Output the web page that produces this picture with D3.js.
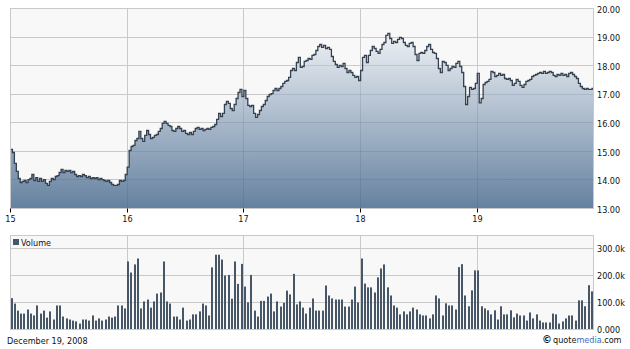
<!DOCTYPE html>
<html>
<head>
<meta charset="utf-8">
<script src="https://cdn.jsdelivr.net/npm/d3@7"></script>
<style>
  body { margin: 0; background: #fff; }
  svg text { font-family: "DejaVu Sans Condensed", "DejaVu Sans", sans-serif; font-stretch: condensed; font-size: 9px; fill: #111; }
</style>
</head>
<body>
<svg id="chart" width="630" height="349"></svg>
<script>
// --> data (intraday readings, 60 per session)
var days = [15, 16, 17, 18, 19];
var dayLabels = ["15", "16", "17", "18", "19"];

var price15 = [15.07,14.96,14.58,14.30,14.05,13.91,13.95,13.98,13.91,14.01,14.05,14.19,13.98,14.08,13.95,14.05,13.95,14.01,13.88,13.81,13.95,14.05,14.01,14.12,14.15,14.26,14.37,14.26,14.33,14.30,14.33,14.26,14.30,14.19,14.12,14.15,14.12,14.19,14.15,14.08,14.12,14.05,14.08,14.05,14.08,14.01,14.05,14.01,13.98,13.95,13.98,13.91,13.84,13.81,13.81,13.84,13.98,13.95,13.98,14.19];
var price16 = [14.45,15.03,15.17,15.21,15.38,15.45,15.70,15.45,15.35,15.56,15.73,15.59,15.45,15.49,15.56,15.59,15.70,15.80,15.98,16.05,15.98,15.91,15.87,15.73,15.70,15.80,15.87,15.80,15.70,15.73,15.63,15.59,15.66,15.59,15.70,15.80,15.84,15.77,15.80,15.73,15.77,15.80,15.77,15.84,15.87,15.94,16.12,16.33,16.22,16.33,16.64,16.75,16.68,16.50,16.43,16.64,16.85,17.06,17.17,16.92];
var price17 = [17.13,16.85,16.61,16.57,16.61,16.33,16.19,16.29,16.43,16.57,16.64,16.78,16.92,16.99,17.02,17.13,17.20,17.13,17.20,17.27,17.38,17.45,17.48,17.59,17.83,17.90,17.83,18.11,18.29,17.94,17.97,18.15,18.18,18.25,18.22,18.36,18.39,18.53,18.67,18.74,18.64,18.71,18.60,18.64,18.57,18.32,18.15,18.04,17.94,18.01,17.97,18.08,17.90,17.76,17.83,17.76,17.66,17.59,17.62,17.48];
var price18 = [17.83,18.29,18.36,18.11,18.36,18.53,18.67,18.60,18.50,18.43,18.57,18.74,18.81,19.06,19.13,18.95,18.78,18.85,18.81,18.92,18.99,18.95,18.81,18.71,18.67,18.78,18.81,18.67,18.39,18.18,18.43,18.46,18.43,18.53,18.67,18.74,18.57,18.46,18.43,18.25,17.90,17.76,18.15,18.11,18.01,17.83,17.90,17.97,17.94,18.08,18.15,17.97,17.76,17.27,16.64,16.92,17.24,17.17,17.20,17.38];
var price19 = [17.73,16.70,16.85,17.34,17.41,17.45,17.52,17.80,17.76,17.62,17.66,17.73,17.66,17.69,17.55,17.52,17.55,17.48,17.31,17.38,17.52,17.45,17.31,17.24,17.34,17.45,17.48,17.52,17.62,17.66,17.69,17.73,17.76,17.73,17.80,17.73,17.76,17.80,17.76,17.66,17.62,17.69,17.66,17.73,17.66,17.69,17.62,17.73,17.76,17.69,17.62,17.55,17.38,17.27,17.20,17.17,17.20,17.17,17.17,17.20];

// volume in thousands, 36 bars per session
var vol15 = [116,96,70,59,59,74,59,52,89,59,70,44,67,37,89,89,48,41,37,33,30,22,37,37,33,52,33,41,33,37,48,44,48,89,89,78];
var vol16 = [252,211,241,263,78,104,111,81,104,133,137,252,104,96,48,48,37,81,33,37,56,56,67,96,89,52,230,277,277,259,200,202,114,252,169,243];
var vol17 = [159,100,202,70,48,106,106,122,133,67,104,85,99,144,130,206,93,104,81,59,81,115,70,70,70,163,126,115,111,111,111,85,85,111,159,100];
var vol18 = [263,170,156,156,137,193,226,241,156,126,89,81,56,67,56,67,81,74,56,52,52,41,56,126,115,52,97,89,89,74,231,242,126,86,145,219];
var vol19 = [219,86,78,71,56,71,37,86,56,56,71,45,59,52,52,33,63,41,56,33,26,26,26,59,56,22,30,41,52,52,33,108,108,86,164,141];

var priceTicks = [13, 14, 15, 16, 17, 18, 19, 20];
var volTicks = [0, 100, 200, 300];
var volTickLabels = ["0.000", "100.0k", "200.0k", "300.0k"];

var dateText = "December 19, 2008";

// build series
var priceByDay = [price15, price16, price17, price18, price19];
var volByDay = [vol15, vol16, vol17, vol18, vol19];

var prices = [];
priceByDay.forEach(function(arr, d) {
    arr.forEach(function(p, i) { prices.push({t: days[d] + i / arr.length, p: p}); });
});
// hold last reading to the close
prices.push({t: 20, p: price19[price19.length - 1]});

var vols = [];
volByDay.forEach(function(arr, d) {
    arr.forEach(function(v, i) { vols.push({t: days[d] + i / arr.length, v: v}); });
});

var svg = d3.select("#chart");
var L = 10.5, R = 593.5;

var x = d3.scaleLinear().domain([15, 20]).range([10.5, 594]);
var yP = d3.scaleLinear().domain([13, 20]).range([208.5, 8.5]);
var yV = d3.scaleLinear().domain([0, 350]).range([329.5, 235]);

function crisp(v) { return Math.floor(v) + 0.5; }

var grid = "#c9c9c9";

// --> PRICE PANEL
var defs = svg.append("defs");
var grad = defs.append("linearGradient").attr("id", "fillGrad")
    .attr("x1", 0).attr("y1", 0).attr("x2", 0).attr("y2", 1);
grad.append("stop").attr("offset", "0%").attr("stop-color", "#eef1f5");
grad.append("stop").attr("offset", "100%").attr("stop-color", "#6581a0");

defs.append("clipPath").attr("id", "plotClip")
    .append("rect").attr("x", L).attr("y", 8.5).attr("width", R - L).attr("height", 200);

var area = d3.area().curve(d3.curveStepAfter)
    .x(function(d) { return x(d.t); })
    .y0(yP(13))
    .y1(function(d) { return yP(d.p); });

var line = d3.line().curve(d3.curveStepAfter)
    .x(function(d) { return x(d.t); })
    .y(function(d) { return yP(d.p); });

defs.append("clipPath").attr("id", "areaClip")
    .append("path").attr("d", area(prices));

svg.append("rect").attr("x", L).attr("y", 8.5).attr("width", R - L).attr("height", 200)
    .attr("fill", "#f8f8f8");

function drawGrid(g, stroke) {
    g.selectAll(".hg").data(priceTicks).enter().append("line")
        .attr("x1", L).attr("x2", R)
        .attr("y1", function(d) { return crisp(yP(d)); })
        .attr("y2", function(d) { return crisp(yP(d)); })
        .attr("stroke", stroke);
    g.selectAll(".vg").data(days.slice(1)).enter().append("line")
        .attr("y1", 8.5).attr("y2", 208.5)
        .attr("x1", function(d) { return crisp(x(d)); })
        .attr("x2", function(d) { return crisp(x(d)); })
        .attr("stroke", stroke);
}

drawGrid(svg.append("g"), grid);

var plot = svg.append("g").attr("clip-path", "url(#plotClip)");
plot.append("path").attr("d", area(prices)).attr("fill", "url(#fillGrad)");
drawGrid(plot.append("g").attr("clip-path", "url(#areaClip)"), "rgba(40,60,85,0.13)");
plot.append("path").attr("d", line(prices))
    .attr("fill", "none").attr("stroke", "#34414f").attr("stroke-width", 1.3);

svg.append("rect").attr("x", L).attr("y", 8.5).attr("width", R - L).attr("height", 200)
    .attr("fill", "none").attr("stroke", grid);

// price labels on the right
var pAxis = svg.append("g").attr("transform", "translate(595,0)")
    .call(d3.axisRight(yP).tickValues(priceTicks).tickSize(0).tickPadding(2)
        .tickFormat(d3.format(".2f")));
pAxis.select(".domain").remove();
pAxis.selectAll("text").attr("dy", "0.42em").style("font-size", "9px").attr("fill", "#111");

// day ticks
var xAxis = svg.append("g").attr("transform", "translate(0,208.5)")
    .call(d3.axisBottom(x).tickValues(days).tickSize(4).tickPadding(3)
        .tickFormat(function(d, i) { return dayLabels[i]; }));
xAxis.select(".domain").remove();
xAxis.selectAll(".tick line").attr("stroke", "#000");
xAxis.selectAll(".tick").attr("transform", function(d) { return "translate(" + crisp(x(d)) + ",0)"; });
xAxis.selectAll("text").style("font-size", "9px").attr("fill", "#111");

// --> VOLUME PANEL
var vTop = 235.5, vBot = crisp(yV(0));
svg.append("rect").attr("x", L).attr("y", vTop).attr("width", R - L).attr("height", vBot - vTop)
    .attr("fill", "#f8f8f8");

svg.selectAll(".vhg").data(volTicks.slice(1)).enter().append("line")
    .attr("x1", L).attr("x2", R)
    .attr("y1", function(d) { return crisp(yV(d)); })
    .attr("y2", function(d) { return crisp(yV(d)); })
    .attr("stroke", grid);
svg.selectAll(".vvg").data(days.slice(1)).enter().append("line")
    .attr("y1", vTop).attr("y2", vBot)
    .attr("x1", function(d) { return crisp(x(d)); })
    .attr("x2", function(d) { return crisp(x(d)); })
    .attr("stroke", grid);

svg.append("g").selectAll("rect").data(vols).enter().append("rect")
    .attr("x", function(d) { return Math.round(x(d.t)); })
    .attr("width", 2)
    .attr("y", function(d) { return yV(d.v); })
    .attr("height", function(d) { return yV(0) - yV(d.v); })
    .attr("fill", "#475767");

svg.append("rect").attr("x", L).attr("y", vTop).attr("width", R - L).attr("height", vBot - vTop)
    .attr("fill", "none").attr("stroke", grid);

// legend
svg.append("rect").attr("x", 13).attr("y", 239).attr("width", 6).attr("height", 6).attr("fill", "#475767");
svg.append("text").attr("x", 21).attr("y", 245.5).text("Volume");

// volume labels
svg.selectAll(".vlab").data(volTicks).enter().append("text")
    .attr("x", 597)
    .attr("y", function(d) { return crisp(yV(d)); })
    .attr("dy", "0.42em")
    .text(function(d, i) { return volTickLabels[i]; });

// --> FOOTER
svg.append("text").attr("x", 7).attr("y", 343.5).text(dateText);
svg.append("text").attr("x", 542).attr("y", 343).style("font-weight", "bold").style("font-size", "11px").text("\u00a9");
var brand = svg.append("text").attr("x", 553).attr("y", 342.5);
brand.append("tspan").text("quote");
brand.append("tspan").style("fill", "#3b6cc0").text("media");
brand.append("tspan").text(".com");
</script>
</body>
</html>
